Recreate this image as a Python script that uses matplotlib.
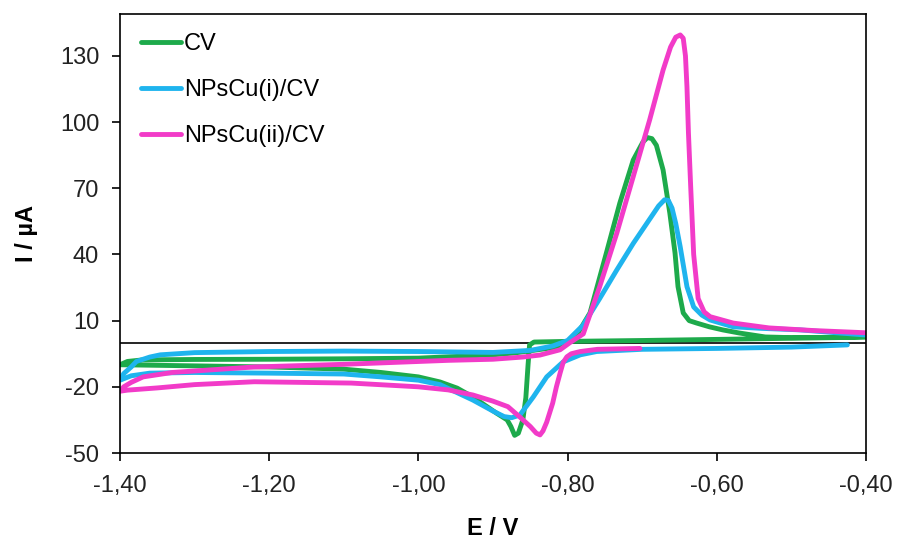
import matplotlib
matplotlib.use("Agg")
import matplotlib.pyplot as plt

plt.rcParams['font.family'] = ['Liberation Sans', 'DejaVu Sans']
plt.rcParams['axes.unicode_minus'] = False

# ---------------- data (E / V , I / µA) ----------------
cv_E = [-0.40, -0.50, -0.60, -0.70, -0.80, -0.845, -0.851, -0.853, -0.856, -0.860,
        -0.866, -0.871, -0.876, -0.881, -0.895, -0.908, -0.927, -0.948, -0.971, -1.00,
        -1.05, -1.10, -1.20, -1.30, -1.40,
        -1.39, -1.37, -1.30, -1.20, -1.10, -1.00, -0.96, -0.90, -0.87, -0.84,
        -0.81, -0.797, -0.785, -0.770, -0.748, -0.730, -0.712, -0.699, -0.693, -0.687,
        -0.681, -0.672, -0.663, -0.656, -0.652, -0.645, -0.637, -0.627, -0.610, -0.592,
        -0.570, -0.535, -0.50, -0.45, -0.40]
cv_I = [2.5, 2.0, 1.5, 1.0, 0.6, 0.3, -1, -10, -25, -35,
        -41, -42, -38, -35, -32, -29, -24.6, -20.6, -17.8, -15.5,
        -13.5, -12, -11, -10.5, -10,
        -8.5, -7.8, -7.6, -7.5, -7.3, -7, -6.4, -5.5, -4.6, -3.2,
        -1.8, 0.5, 5, 13.5, 40.7, 63.3, 82.8, 91, 93, 92.5,
        89.5, 78.3, 58.8, 40.7, 25.4, 13.5, 10, 8.9, 7.2, 5.8,
        4.4, 2.6, 2.3, 2.4, 2.8]

cu1_E = [-0.425, -0.50, -0.60, -0.70, -0.761, -0.783, -0.806, -0.828, -0.846, -0.864,
         -0.875, -0.885, -0.90, -0.927, -0.971, -1.00, -1.05, -1.10, -1.20, -1.30,
         -1.36, -1.385, -1.40,
         -1.395, -1.385, -1.378, -1.36, -1.346, -1.30, -1.20, -1.10, -1.00, -0.90,
         -0.85, -0.82, -0.80, -0.779, -0.757, -0.734, -0.712, -0.690, -0.678, -0.670,
         -0.665, -0.660, -0.655, -0.649, -0.640, -0.631, -0.620, -0.609, -0.578, -0.54,
         -0.488, -0.44, -0.40]
cu1_I = [-1.0, -2.0, -2.6, -3.0, -4.0, -5.5, -8.7, -15.5, -24.6, -32.8,
         -34, -33.5, -31, -26, -19, -17, -15.5, -14.2, -13.8, -13.5,
         -13.8, -15, -17,
         -14, -11, -8.5, -6.5, -5.5, -4.5, -4, -3.8, -4, -4.4,
         -3.5, -1.5, 1, 8, 20, 33, 45, 56, 62, 64.8,
         64.5, 61, 54, 43.4, 25.4, 16.2, 12.5, 10.3, 7.2, 6.5,
         5.8, 4.5, 3.5]

cu2_E = [-0.703, -0.76, -0.783, -0.795, -0.801, -0.806, -0.810, -0.815, -0.820, -0.828,
         -0.833, -0.837, -0.842, -0.850, -0.864, -0.88, -0.90, -0.927, -0.96, -1.00,
         -1.09, -1.22, -1.30, -1.35, -1.39, -1.40,
         -1.395, -1.385, -1.369, -1.33, -1.22, -1.10, -0.96, -0.90, -0.86, -0.837,
         -0.81, -0.797, -0.779, -0.757, -0.734, -0.712, -0.690, -0.672, -0.662, -0.655,
         -0.649, -0.645, -0.642, -0.640, -0.638, -0.635, -0.631, -0.625, -0.617, -0.609,
         -0.578, -0.53, -0.47, -0.40]
cu2_I = [-2.6, -3.0, -4.0, -5.0, -6.4, -9, -13.7, -20, -27.4, -36,
         -40, -41.8, -41, -38, -33.7, -29, -26.5, -23.7, -21.4, -20,
         -18.3, -17.7, -19, -20.5, -21.5, -22,
         -20, -18, -15.5, -13.5, -11, -9.8, -8, -7.5, -6.5, -5.6,
         -3.2, 0, 4, 25.4, 49.7, 75.3, 101, 123.6, 134, 138.5,
         139.5, 138, 130, 116, 95, 70.7, 40, 20, 14, 11.8,
         8.9, 6.7, 5.5, 4.5]

labels = ['CV', 'NPsCu(i)/CV', 'NPsCu(ii)/CV']
colors = ['#1DAA4B', '#1FB4EE', '#F23BC8']

x_ticks = [-1.40, -1.20, -1.00, -0.80, -0.60, -0.40]
x_ticklabels = ['-1,40', '-1,20', '-1,00', '-0,80', '-0,60', '-0,40']
y_ticks = [-50, -20, 10, 40, 70, 100, 130]

# ---------------- figure ----------------
fig = plt.figure(figsize=(8.97, 5.40), dpi=100)
ax = fig.add_axes([120/897, 87/540, 746/897, 439/540])

ax.axhline(0, color='black', lw=1.2, zorder=1)
for E, I, c, lab in zip([cv_E, cu1_E, cu2_E], [cv_I, cu1_I, cu2_I], colors, labels):
    ax.plot(E, I, color=c, lw=3.5, label=lab, solid_joinstyle='round',
            solid_capstyle='round', zorder=2)

ax.set_xlim(-1.40, -0.40)
ax.set_ylim(-50, 149)
ax.set_xticks(x_ticks)
ax.set_xticklabels(x_ticklabels)
ax.set_yticks(y_ticks)

for s in ax.spines.values():
    s.set_linewidth(1.2)
    s.set_color('black')

ax.tick_params(axis='both', direction='out', length=6, width=1.2,
               labelsize=17, colors='black', labelcolor='#222222')
ax.tick_params(axis='y', pad=9)
ax.tick_params(axis='x', pad=10)

ax.set_xlabel('E / V', fontsize=17, fontweight='bold', labelpad=14)
ax.set_ylabel('I / µA', fontsize=17, fontweight='bold', labelpad=16)

leg = ax.legend(loc='upper left', bbox_to_anchor=(0.028, 0.956), frameon=False,
                fontsize=17, handlelength=1.7, handletextpad=0.12,
                labelspacing=1.01, borderpad=0, borderaxespad=0)
for h in leg.get_lines():
    h.set_linewidth(3.5)

fig.savefig('out.png', dpi=100)
